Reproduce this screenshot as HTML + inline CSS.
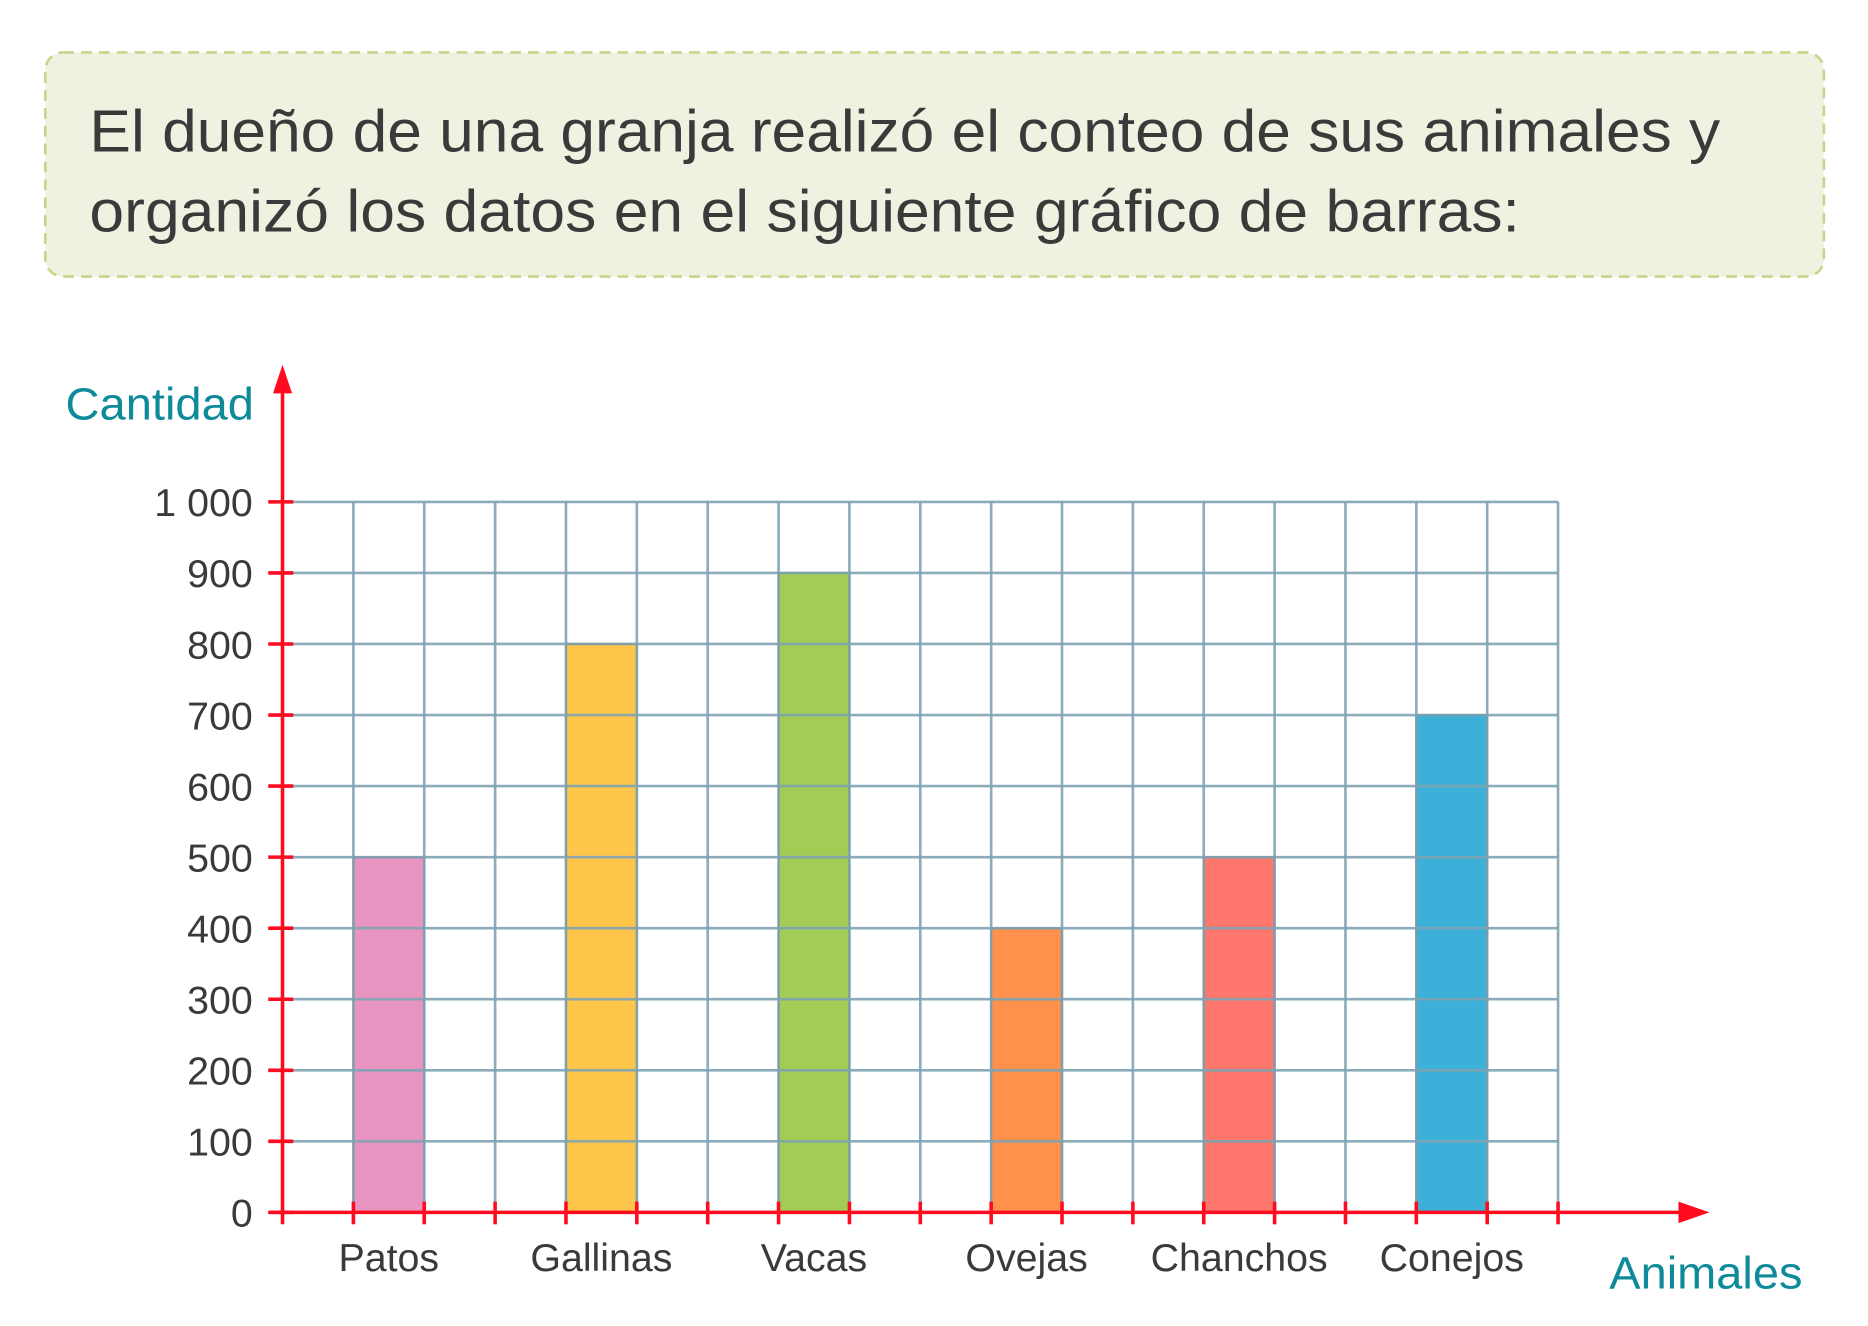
<!DOCTYPE html>
<html><head><meta charset="utf-8"><style>
html,body{margin:0;padding:0;background:#fff;width:1868px;height:1326px;overflow:hidden}
svg{display:block}
text{font-family:"Liberation Sans",sans-serif}
</style></head><body>
<svg id="chart" width="1868" height="1326" viewBox="0 0 1567 1112.3" preserveAspectRatio="none" xmlns="http://www.w3.org/2000/svg">
<rect x="38" y="44" width="1492" height="188" rx="15" fill="#eff2e0" stroke="#c5d68a" stroke-width="2.2" stroke-dasharray="9,6"/>
<text x="75" y="127" font-size="50" fill="#3a3a3a" textLength="1368" lengthAdjust="spacingAndGlyphs">El dueño de una granja realizó el conteo de sus animales y</text>
<text x="75" y="194" font-size="50" fill="#3a3a3a" textLength="1200" lengthAdjust="spacingAndGlyphs">organizó los datos en el siguiente gráfico de barras:</text>
<g id="plot"></g>
</svg>
<script>
const categories = ["Patos","Gallinas","Vacas","Ovejas","Chanchos","Conejos"];
const values = [500, 800, 900, 400, 500, 700];
const yTicks = [0,100,200,300,400,500,600,700,800,900,1000];
const yTickLabels = ["0","100","200","300","400","500","600","700","800","900","1 000"];
const fills = ["#e795c0","#ffc54a","#a2cc55","#ff914d","#ff766d","#3cb0d8"];
const strokes = ["#9a5a80","#a08030","#5a8a30","#b06030","#a05050","#1a78a0"];

const NS="http://www.w3.org/2000/svg";
const g=document.getElementById('plot');
const x0=237, x1=1307, y0=1017, yTop=421, nCols=18;
const colW=(x1-x0)/nCols;
const yScale=v=>y0-(v/1000)*(y0-yTop);
const xCol=c=>x0+c*colW;
function mk(tag,attrs){const e=document.createElementNS(NS,tag);for(const k in attrs)e.setAttribute(k,attrs[k]);g.appendChild(e);return e;}

categories.forEach((c,i)=>{
  const r=mk('rect',{x:xCol(1+3*i),y:yScale(values[i]),width:colW,height:y0-yScale(values[i]),fill:fills[i],stroke:strokes[i],'stroke-width':1.5});
  
  
});
for(let c=0;c<=nCols;c++){
  const l=mk('line',{x1:xCol(c),x2:xCol(c),y1:yTop,y2:y0,stroke:'#7ea3b3','stroke-width':2.2,'stroke-opacity':0.9});
  
  
}
yTicks.forEach((t,i)=>{
  const y=yScale(t);
  const l=mk('line',{x1:x0,x2:x1,y1:y,y2:y,stroke:'#7ea3b3','stroke-width':2.2,'stroke-opacity':0.9});
  
  
  const tk=mk('line',{x1:225,x2:246,y1:y,y2:y,stroke:'#ff0a1e','stroke-width':3});
  
  
  const tx=mk('text',{x:212,y:y+12,'font-size':33,'text-anchor':'end',fill:'#3a3a3a'});
  tx.textContent=yTickLabels[i];
  
  
});
const ya=mk('line',{x1:x0,x2:x0,y1:322,y2:1027,stroke:'#ff0a1e','stroke-width':3});


const yarr=mk('polygon',{points:'237,306 229,330 245,330',fill:'#ff0a1e'});


const xa=mk('line',{x1:228,x2:1418,y1:y0,y2:y0,stroke:'#ff0a1e','stroke-width':3});


const xarr=mk('polygon',{points:'1434,1017 1408,1008 1408,1026',fill:'#ff0a1e'});


for(let c=1;c<=nCols;c++){
  const t=mk('line',{x1:xCol(c),x2:xCol(c),y1:1008,y2:1027,stroke:'#ff0a1e','stroke-width':3});
  
  
}
categories.forEach((c,i)=>{
  const t=mk('text',{x:xCol(1.5+3*i),y:1066,'font-size':33,'text-anchor':'middle',fill:'#3a3a3a'});
  t.textContent=c;
  
  
});
const yt=mk('text',{x:55,y:352,'font-size':38,fill:'#0e8a9a',textLength:158,lengthAdjust:'spacingAndGlyphs'});
yt.textContent='Cantidad';


const xt=mk('text',{x:1350,y:1081,'font-size':38,fill:'#0e8a9a',textLength:162,lengthAdjust:'spacingAndGlyphs'});
xt.textContent='Animales';


</script>
</body></html>
